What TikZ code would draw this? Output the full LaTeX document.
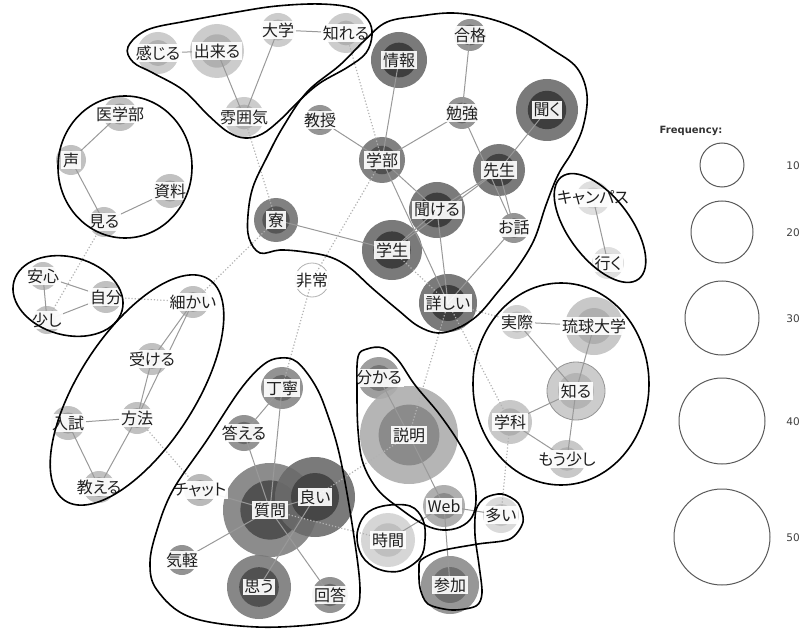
\documentclass[tikz,border=0pt]{standalone}
\usepackage{fontspec}
\setmainfont{Noto Sans CJK JP}[RawFeature={+palt}]
\newfontfamily\legendfont{DejaVu Sans}

% word bubble: name, x, y, radius, outer fill, inner fill, inner ratio
\newcommand\wordnode[7]{%
  \node[bub, minimum size={2*#4bp}, fill=#5] (#1) at (#2,#3) {};
  \fill[#6, fill opacity=0.9] (#1.center) circle ({#4*#7bp});
}

\tikzset{
  bub/.style={circle, inner sep=0pt, outer sep=0pt, fill opacity=0.9},
  lab/.style={fill=white, fill opacity=0.92, text opacity=1, inner sep=1.6bp,
    text=black!88, font=\fontsize{16bp}{17bp}\selectfont},
  link/.style={draw=black!40, line width=1bp},
  weak/.style={draw=black!30, line width=1.2bp, dotted},
  hull/.style={draw=black, line width=1.6bp},
  legring/.style={circle, draw=black!65, line width=1bp, inner sep=0pt},
  legnum/.style={font=\legendfont\fontsize{10.5bp}{12bp}\selectfont, text=black!75},
}

\begin{document}
\begin{tikzpicture}[x=1bp, y=-1bp]
\useasboundingbox (0,0) rectangle (804,630);

% ---- bubbles ----
% upper left group
\wordnode{kanjiru}{158}{53}{21}{black!22}{black!32}{0.62}
\wordnode{dekiru}{217}{51}{27}{black!22}{black!32}{0.62}
\wordnode{daigaku}{278}{30}{17}{black!22}{black!32}{0.62}
\wordnode{shireru}{346}{33}{20}{black!22}{black!32}{0.62}
\wordnode{fun}{244}{117}{20}{black!22}{black!32}{0.62}
% left groups
\wordnode{igakubu}{120}{114}{17}{black!27}{black!40}{0.62}
\wordnode{koe}{71}{160}{15}{black!27}{black!40}{0.62}
\wordnode{shiryou}{170}{191}{17}{black!27}{black!40}{0.62}
\wordnode{miru}{104}{222}{15}{black!27}{black!40}{0.62}
\wordnode{anshin}{43}{276}{14}{black!27}{black!40}{0.62}
\wordnode{jibun}{106}{297}{16}{black!27}{black!40}{0.62}
\wordnode{sukoshi}{47}{320}{14}{black!27}{black!40}{0.62}
\wordnode{komakai}{193}{302}{16}{black!27}{black!40}{0.62}
\wordnode{ukeru}{152}{359}{16}{black!27}{black!40}{0.62}
\wordnode{houhou}{137}{418}{16}{black!27}{black!40}{0.62}
\wordnode{nyuushi}{68}{423}{17}{black!27}{black!40}{0.62}
\wordnode{oshieru}{99}{487}{16}{black!27}{black!40}{0.62}
\wordnode{chatto}{200}{490}{16}{black!30}{black!42}{0.62}
% central group
\wordnode{jouhou}{399}{60}{28}{black!58}{black!78}{0.62}
\wordnode{goukaku}{470}{35}{16}{black!46}{black!62}{0.65}
\wordnode{kyouju}{320}{120}{15}{black!46}{black!62}{0.65}
\wordnode{benkyou}{462}{113}{16}{black!46}{black!62}{0.65}
\wordnode{kiku}{547}{110}{31}{black!58}{black!78}{0.62}
\wordnode{gakubu}{382}{160}{23}{black!55}{black!70}{0.62}
\wordnode{sensei}{499}{170}{26}{black!58}{black!76}{0.62}
\wordnode{kikeru}{437}{210}{28}{black!58}{black!78}{0.62}
\wordnode{ohanashi}{514}{228}{15}{black!46}{black!62}{0.65}
\wordnode{ryou}{276}{220}{22}{black!55}{black!68}{0.62}
\wordnode{gakusei}{392}{250}{30}{black!58}{black!78}{0.62}
\wordnode{kuwashii}{448}{303}{29}{black!58}{black!78}{0.62}
\node[bub, minimum size=34bp, fill=white, draw=black!30, line width=0.8bp] (hijou) at (312,280) {};
% question group
\wordnode{teinei}{282}{388}{21}{black!47}{black!60}{0.62}
\wordnode{kotaeru}{244}{433}{18}{black!47}{black!60}{0.62}
\wordnode{shitsumon}{270}{510}{47}{black!50}{black!70}{0.63}
\wordnode{yoi}{315}{497}{40}{black!58}{black!74}{0.6}
\wordnode{kigaru}{182}{560}{15}{black!47}{black!60}{0.65}
\wordnode{omou}{259}{587}{32}{black!52}{black!70}{0.62}
\wordnode{kaitou}{330}{595}{18}{black!47}{black!60}{0.62}
% explanation group
\wordnode{wakaru}{379}{378}{21}{black!42}{black!55}{0.62}
\wordnode{setsumei}{409}{435}{49}{black!32}{black!47}{0.62}
\wordnode{web}{444}{506}{21}{black!35}{black!47}{0.62}
\wordnode{jikan}{388}{540}{27}{black!18}{black!26}{0.62}
\wordnode{ooi}{501}{515}{18}{black!16}{black!24}{0.62}
\wordnode{sanka}{450}{585}{29}{black!45}{black!58}{0.62}
% right groups
\wordnode{campus}{593}{198}{17}{black!14}{black!20}{0.62}
\wordnode{iku}{608}{263}{16}{black!14}{black!20}{0.62}
\wordnode{jissai}{517}{322}{17}{black!20}{black!28}{0.62}
\wordnode{ryukyu}{594}{326}{29}{black!24}{black!32}{0.62}
\wordnode{shiru}{576}{391}{29}{black!22}{black!30}{0.62}
\draw[black!42, line width=0.8bp] (shiru) circle (29bp);
\wordnode{gakka}{510}{422}{22}{black!24}{black!32}{0.62}
\wordnode{mousukoshi}{567}{459}{19}{black!24}{black!32}{0.62}

% ---- strong co-occurrences ----
\foreach \a/\b in {kanjiru/dekiru, dekiru/fun, daigaku/fun, daigaku/shireru,
  igakubu/koe, koe/miru, miru/shiryou,
  anshin/sukoshi, anshin/jibun, sukoshi/jibun,
  komakai/ukeru, komakai/houhou, ukeru/houhou, houhou/nyuushi, houhou/oshieru, nyuushi/oshieru,
  jouhou/gakubu, goukaku/benkyou, kyouju/gakubu, gakubu/benkyou, benkyou/ohanashi,
  kiku/sensei, gakubu/kikeru, gakubu/kuwashii, kikeru/sensei, gakusei/sensei,
  kikeru/gakusei, sensei/ohanashi, kikeru/kuwashii, ohanashi/kuwashii, ryou/gakusei,
  teinei/kotaeru, teinei/shitsumon, kotaeru/shitsumon, chatto/shitsumon,
  kigaru/shitsumon, shitsumon/kaitou, yoi/omou, shitsumon/yoi,
  wakaru/setsumei, setsumei/web, web/sanka, web/jikan, web/ooi,
  campus/iku, jissai/ryukyu, jissai/shiru, ryukyu/shiru, shiru/gakka,
  shiru/mousukoshi, gakka/mousukoshi}
  \draw[link] (\a.center) -- (\b.center);

% ---- weak co-occurrences ----
\foreach \a/\b in {shireru/gakubu, fun/ryou, miru/sukoshi, jibun/komakai,
  ryou/komakai, hijou/gakubu, hijou/teinei, gakusei/kuwashii, kuwashii/jissai,
  kuwashii/setsumei, kuwashii/gakka, gakka/ooi, houhou/chatto,
  setsumei/yoi, shitsumon/jikan}
  \draw[weak] (\a.center) -- (\b.center);

% ---- labels ----
\foreach \n/\t in {kanjiru/感じる, dekiru/出来る, daigaku/大学, shireru/知れる, fun/雰囲気,
  igakubu/医学部, koe/声, shiryou/資料, miru/見る, anshin/安心, jibun/自分,
  sukoshi/少し, komakai/細かい, ukeru/受ける, houhou/方法, nyuushi/入試,
  oshieru/教える, chatto/チャット, jouhou/情報, goukaku/合格, kyouju/教授,
  benkyou/勉強, kiku/聞く, gakubu/学部, sensei/先生, kikeru/聞ける,
  ohanashi/お話, ryou/寮, gakusei/学生, kuwashii/詳しい, hijou/非常,
  teinei/丁寧, kotaeru/答える, shitsumon/質問, yoi/良い, kigaru/気軽,
  omou/思う, kaitou/回答, wakaru/分かる, setsumei/説明, web/Web,
  jikan/時間, ooi/多い, sanka/参加, campus/キャンパス, iku/行く,
  jissai/実際, ryukyu/琉球大学, shiru/知る, gakka/学科, mousukoshi/もう少し}
  \node[lab] (\n-t) at (\n.center) {\t};

% ---- community outlines ----
\draw[hull] plot[smooth cycle, tension=0.6] coordinates {
  (128,47) (147,30) (187,21) (237,12) (277,6) (320,4) (352,8) (368,20)
  (372,35) (366,53) (348,67) (320,83) (300,100) (280,120) (262,134)
  (245,138) (228,132) (208,115) (183,90) (153,73) (133,62)};
\draw[hull] plot[smooth cycle, tension=0.6] coordinates {
  (387,22) (420,16) (453,13) (487,18) (520,30) (553,50) (577,68) (587,95)
  (583,127) (572,152) (558,175) (546,205) (534,240) (517,268) (497,293)
  (478,315) (458,328) (438,333) (418,326) (398,310) (372,288) (350,268)
  (330,257) (305,252) (280,250) (260,253) (249,238) (248,215) (253,187)
  (267,157) (283,127) (307,92) (340,65) (365,40)};
\draw[hull] (125,167) ellipse [x radius=67bp, y radius=71bp];
\draw[hull, rotate around={-15:(68,296)}] (68,296) ellipse [x radius=56bp, y radius=39bp];
\draw[hull, rotate around={57:(137,390)}] (137,390) ellipse [x radius=132bp, y radius=58bp];
\draw[hull, rotate around={-53:(600,228)}] (600,228) ellipse [x radius=64bp, y radius=31bp];
\draw[hull] (561,384) ellipse [x radius=88bp, y radius=101bp];
\draw[hull] plot[smooth cycle, tension=0.6] coordinates {
  (280,358) (297,362) (315,385) (327,413) (340,457) (353,530) (360,590)
  (353,613) (327,623) (257,627) (190,617) (157,590) (150,563) (157,530)
  (173,490) (207,440) (240,390) (263,365)};
\draw[hull] plot[smooth cycle, tension=0.6] coordinates {
  (358,357) (367,349) (383,348) (398,360) (415,385) (440,415) (462,448)
  (473,475) (476,500) (472,517) (460,527) (443,530) (425,525) (402,510)
  (378,490) (363,463) (358,430) (357,390)};
\draw[hull] plot[smooth cycle, tension=0.6] coordinates {
  (357,535) (365,515) (383,506) (410,506) (423,520) (425,540) (420,558)
  (400,571) (378,569) (362,556)};
\draw[hull] plot[smooth cycle, tension=0.5] coordinates {
  (421,560) (440,551) (478,544) (510,539) (523,522) (518,503) (502,494)
  (485,498) (476,510) (475,535) (479,565) (482,593) (476,606) (452,610)
  (428,604) (420,588) (419,570)};

% ---- legend ----
\node[font=\legendfont\bfseries\fontsize{10bp}{12bp}\selectfont, text=black!80] (freq) at (691,131) {Frequency:};
\node[legring, minimum size=44bp] (f10) at (722,165) {};
\node[legring, minimum size=62bp] (f20) at (722,232) {};
\node[legring, minimum size=74bp] (f30) at (722,318) {};
\node[legring, minimum size=86bp] (f40) at (722,421) {};
\node[legring, minimum size=96bp] (f50) at (722,537) {};
\node[legnum] (n10) at (793,166) {10};
\node[legnum] (n20) at (793,233) {20};
\node[legnum] (n30) at (793,319) {30};
\node[legnum] (n40) at (793,422) {40};
\node[legnum] (n50) at (793,538) {50};
\end{tikzpicture}
\end{document}
